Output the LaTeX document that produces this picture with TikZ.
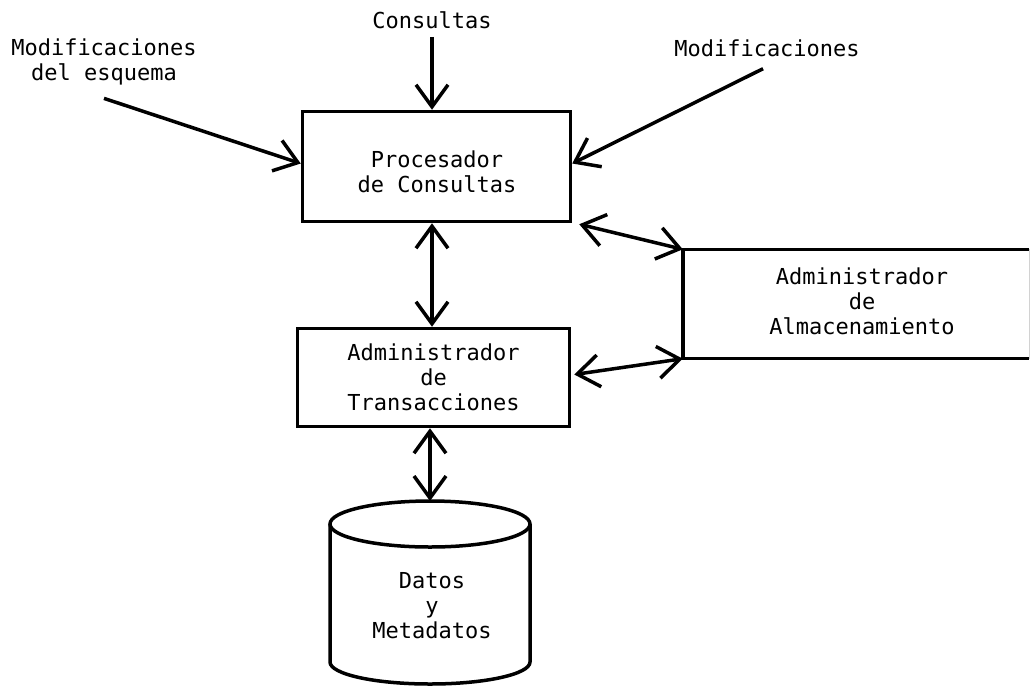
\documentclass[tikz,border=0pt]{standalone}
\usepackage{fontspec}
\setmonofont{DejaVu Sans Mono}
\usetikzlibrary{arrows.meta}
\begin{document}
\begin{tikzpicture}[x=1pt,y=-1pt,
  lbl/.style={font=\ttfamily\fontsize{22}{25}\selectfont, align=center, inner sep=0pt},
  box/.style={draw, line width=3.5pt},
  barb/.tip={Straight Barb[length=22pt,width=32pt]},
  flow/.style={line width=3.5pt, -barb},
  both/.style={line width=3.5pt, barb-barb}]
\useasboundingbox (0,0) rectangle (1030,686);

% outside inputs
\node[lbl] (cons) at (432,20) {Consultas};
\node[lbl] (esq) at (104,62) {Modificaciones\\del esquema};
\node[lbl] (mod) at (767,48) {Modificaciones};

% processing blocks
\node[box, minimum width=268, minimum height=110] (proc) at (436.5,166.5) {};
\node[lbl] (proctxt) at (437,172) {Procesador\\de Consultas};
\node[box, lbl, minimum width=272, minimum height=98] (trans) at (433.5,377.5) {Administrador\\de\\Transacciones};
\node[minimum width=346, minimum height=109, inner sep=0pt] (almac) at (856,304) {};
\node[lbl] (almactxt) at (862,301) {Administrador\\de\\Almacenamiento};
\draw[line width=3.5pt] (almac.north east) -- (almac.north west) -- (almac.south west) -- (almac.south east);
\draw[gray!35, line width=1pt] (almac.north east) -- (almac.south east);

% data store
\coordinate (dbtop) at (430,501);
\draw[line width=3.5pt] (430,524) ellipse [x radius=100pt, y radius=23pt];
\draw[line width=3.5pt] (330,524) -- (330,662)
  arc[start angle=180, end angle=360, x radius=100pt, y radius=22pt] -- (530,524);
\node[lbl] (db) at (432,606) {Datos\\y\\Metadatos};

% connectors
\draw[flow] ([yshift=-8pt]cons.south) -- ([xshift=-4.5pt]proc.north);
\draw[flow] ([yshift=-13pt]esq.south) -- ([yshift=3pt]proc.west);
\draw[flow] ([shift={(-4pt,-12pt)}]mod.south) -- ([yshift=3pt]proc.east);
\draw[both] ([xshift=-4.5pt]proc.south) -- ([xshift=-1.5pt]trans.north);
\draw[both] ([shift={(7pt,-1pt)}]proc.south east) -- (almac.north west);
\draw[both] ([shift={(3pt,3pt)}]trans.east) -- (almac.south west);
\draw[both] ([xshift=-3.5pt]trans.south) -- (dbtop);
\end{tikzpicture}
\end{document}
